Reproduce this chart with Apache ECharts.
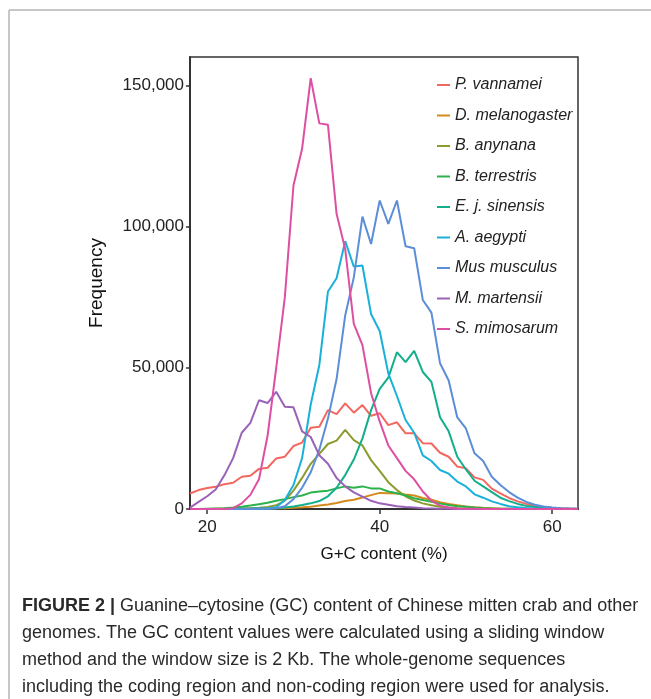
<!DOCTYPE html>
<html>
<head>
<meta charset="utf-8">
<script src="https://cdn.jsdelivr.net/npm/echarts@6/dist/echarts.min.js"></script>
<style>
html,body{margin:0;padding:0;background:#fff;}
#chart{width:651px;height:699px;}
</style>
</head>
<body>
<div id="chart"></div>
<script>
// G+C content (%) bins
const gc = [18,19,20,21,22,23,24,25,26,27,28,29,30,31,32,33,34,35,36,37,38,39,40,41,42,43,44,45,46,47,48,49,50,51,52,53,54,55,56,57,58,59,60,61,62,63];

const pVannamei = [5500,6700,7400,7900,8800,9300,11400,11800,14200,14600,17900,18500,22300,23500,28800,29100,35000,33600,37400,34100,36800,33000,33900,29700,30700,26800,26800,23300,23200,19900,18500,15000,14400,11200,10300,7200,5500,3900,2700,1800,1100,700,400,250,150,80];
const dMelanogaster = [0,0,0,50,50,100,100,150,150,200,250,300,450,600,800,1200,1600,2100,2800,3300,4100,4900,5700,5600,5500,5100,4800,3900,3300,2400,1800,1300,900,650,450,300,200,130,90,60,40,30,20,10,10,0];
const bAnynana = [0,0,0,0,50,100,150,250,400,700,1300,3000,6500,11000,16000,19500,23000,24200,28000,24400,22500,17300,13500,9500,6700,4500,3000,2000,1300,800,500,300,200,100,80,50,30,20,10,0,0,0,0,0,0,0];
const bTerrestris = [0,0,100,200,300,500,800,1200,1700,2200,2900,3500,4200,4800,5800,6200,6500,7300,8000,7500,8000,7300,7300,6200,5600,4800,3800,3200,2600,1900,1400,1000,800,500,300,200,100,80,50,30,20,10,0,0,0,0];
const eJSinensis = [0,0,0,0,0,0,50,100,150,200,300,500,900,1400,2000,2800,4500,7500,12000,17500,25000,35000,42500,46500,55500,52000,56000,48500,45000,32500,27500,18500,14000,10000,8000,6000,4000,2800,1800,1100,700,400,250,150,100,50];
const aAegypti = [0,0,0,0,0,0,0,50,100,200,600,3200,8500,18000,37000,51000,77000,81700,94800,85800,86200,69000,63000,48000,40000,31500,27000,19000,17000,13800,12500,9700,8000,5200,4000,2700,1800,1000,600,350,200,100,50,0,0,0];
const musMusculus = [0,0,0,0,0,0,0,0,50,100,300,1000,3500,7500,13000,21000,32000,46000,68500,82000,103500,93800,109200,100900,109200,93000,92300,74000,69500,51600,45500,32400,28500,19700,17000,11400,8500,6000,4000,2500,1500,900,500,300,150,80];
const mMartensii = [500,2500,4500,7000,12000,18000,27000,30500,38500,37500,41500,36200,36000,27500,25500,19000,16000,11000,8000,5900,4400,2900,2000,1500,1000,700,500,300,200,100,50,0,0,0,0,0,0,0,0,0,0,0,0,0,0,0];
const sMimosarum = [0,0,0,0,0,300,2000,5000,10500,26000,50000,75000,114500,127500,152500,136500,136000,104500,92000,65500,58000,41000,31000,22500,18000,13500,10500,6200,3000,1200,500,200,100,50,0,0,0,0,0,0,0,0,0,0,0,0];

const seriesNames = ['P. vannamei','D. melanogaster','B. anynana','B. terrestris','E. j. sinensis','A. aegypti','Mus musculus','M. martensii','S. mimosarum'];
const seriesValues = [pVannamei,dMelanogaster,bAnynana,bTerrestris,eJSinensis,aAegypti,musMusculus,mMartensii,sMimosarum];
const seriesColors = ['#F3675F','#D58B1C','#8D9B2D','#2BB24C','#13AE8B','#19B1D9','#5C8ED8','#9A62B7','#DE4FA3'];

const xTicks = [20,40,60];
const yTicks = [0,50000,100000,150000];

const captionLines = [
  'Guanine\u2013cytosine (GC) content of Chinese mitten crab and other',
  'genomes. The GC content values were calculated using a sliding window',
  'method and the window size is 2 Kb. The whole-genome sequences',
  'including the coding region and non-coding region were used for analysis.'
];

const chart = echarts.init(document.getElementById('chart'), null, {renderer:'canvas'});
const fontFam = '"Liberation Sans", Arial, Helvetica, sans-serif';

const series = seriesNames.map((n,i)=>({
  name:n, type:'line', showSymbol:false, symbol:'none',
  data: gc.map((x,j)=>[x, seriesValues[i][j]]),
  lineStyle:{width:2, color:seriesColors[i]},
  itemStyle:{color:seriesColors[i]},
  z: 2+i
}));

const captionGraphics = captionLines.map((t,i)=>{
  if(i===0){
    return {type:'text', left:22, top:597, style:{
      text:'{b|FIGURE 2 |} '+t,
      rich:{b:{fontWeight:'bold', fontSize:18, fontFamily:fontFam, fill:'#2a2a2a'}},
      fontSize:18, fontFamily:fontFam, fill:'#2a2a2a'}};
  }
  return {type:'text', left:22, top:597+27*i, style:{text:t, fontSize:18, fontFamily:fontFam, fill:'#2a2a2a'}};
});

chart.setOption({
  animation:false,
  backgroundColor:'#fff',
  grid:{left:190, right:73, top:57, bottom:190, show:true, borderColor:'#333', borderWidth:1.5, backgroundColor:'transparent'},
  legend:{
    orient:'vertical', left:437, top:77, padding:0, icon:'rect', itemWidth:13, itemHeight:2, itemGap:14.5,
    textStyle:{fontStyle:'italic', fontSize:16, color:'#222', fontFamily:fontFam},
    data: seriesNames
  },
  xAxis:{
    type:'value', min:18, max:63,
    name:'G+C content (%)', nameLocation:'middle', nameGap:37,
    nameTextStyle:{fontSize:17, color:'#111', fontFamily:fontFam},
    axisLine:{show:true, lineStyle:{color:'#333', width:2}},
    axisTick:{show:true, length:5, lineStyle:{color:'#333', width:1.5}, customValues:xTicks},
    axisLabel:{fontSize:17, color:'#222', fontFamily:fontFam, margin:10, customValues:xTicks},
    splitLine:{show:false}
  },
  yAxis:{
    type:'value', min:0, max:160000,
    name:'Frequency', nameLocation:'middle', nameGap:84, nameRotate:90,
    nameTextStyle:{fontSize:19, color:'#111', fontFamily:fontFam},
    axisLine:{show:true, lineStyle:{color:'#333', width:2}},
    axisTick:{show:true, length:4, lineStyle:{color:'#333', width:1.5}, customValues:yTicks},
    axisLabel:{fontSize:17, color:'#222', fontFamily:fontFam, margin:6, customValues:yTicks,
      formatter:(v)=>Number(v).toLocaleString('en-US')},
    splitLine:{show:false}
  },
  graphic:[
    {type:'line', shape:{x1:9, y1:10, x2:651, y2:10}, style:{stroke:'#b5b5b5', lineWidth:1.5}},
    {type:'line', shape:{x1:9, y1:10, x2:9, y2:699}, style:{stroke:'#b5b5b5', lineWidth:1.5}}
  ].concat(captionGraphics),
  series: series
});
</script>
</body>
</html>
